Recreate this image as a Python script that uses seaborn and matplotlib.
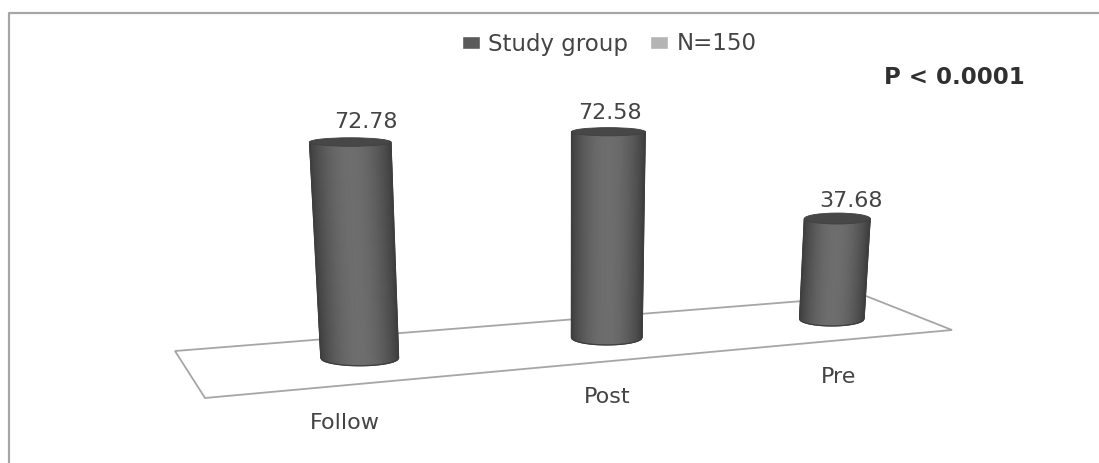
import numpy as np
import pandas as pd
import matplotlib
matplotlib.use("Agg")
import matplotlib.pyplot as plt
from matplotlib.patches import Ellipse, Polygon, Rectangle
from matplotlib.transforms import Transform
import seaborn as sns

categories = ["Follow", "Post", "Pre"]
study_values = [72.78, 72.58, 37.68]
series_names = ["Study group", "N=150"]
annotation = "P < 0.0001"

W, H = 1099, 463
INK = "#444444"
FRAME = "#a6a6a6"
BAR_WIDTH = 0.3


class Perspective(Transform):
    """Homography from (category position, value) to image pixels."""
    input_dims = output_dims = 2
    is_affine = False
    M = np.array([[276.7, -0.338, 360.0],
                  [-4.0, -3.052, 358.0],
                  [0.0489, -0.000594, 1.0]])

    def transform_non_affine(self, values):
        pts = np.column_stack([np.asarray(values), np.ones(len(values))])
        out = pts @ self.M.T
        return out[:, :2] / out[:, 2:]


to_pixels = Perspective()

sns.set_theme(style="white")
plt.rcParams["font.family"] = ["DejaVu Sans"]

fig = plt.figure(figsize=(W / 100, H / 100), dpi=100, facecolor="white")
ax = fig.add_axes([0, 0, 1, 1])

frame = pd.DataFrame({
    "category": categories * 2,
    "value": study_values + [np.nan] * len(categories),
    "series": [series_names[0]] * 3 + [series_names[1]] * 3,
})
sns.barplot(data=frame, x="category", y="value", hue="series", order=categories,
            hue_order=series_names, palette=["#5a5a5a", "#b4b4b4"], saturation=1,
            dodge=False, width=BAR_WIDTH, errorbar=None, ax=ax)
ax.set(xlabel="", ylabel="")
ax.set_xticks([])
ax.set_yticks([])
for side in ax.spines.values():
    side.set_visible(False)
ax.set_facecolor("none")

bars = [p for p in ax.patches if isinstance(p, Rectangle)
        and np.isfinite(p.get_height()) and p.get_height() > 0]

# Overlay axes in image pixels for the 3-D scene
scene = fig.add_axes([0, 0, 1, 1], facecolor="none")
scene.set_xlim(0, W)
scene.set_ylim(H, 0)
scene.set_autoscale_on(False)
scene.axis("off")

# Chart area border
scene.plot([9, 9, W], [H, 13, 13], color=FRAME, lw=1.6, clip_on=False, zorder=1)

# Floor of the 3-D plot
scene.add_patch(Polygon([(205, 398), (952, 330), (866, 296), (175, 351)], closed=True,
                        fc="white", ec=FRAME, lw=1.3, zorder=2))


def shade(t):
    """Grey level across a cylinder, t from -1 (left) to 1 (right)."""
    return 0.24 + 0.19 * np.cos(t * np.pi / 2) ** 0.8


def rim_depth(y):
    """Half height of an elliptical rim; rims lower in the view open up more."""
    return 2 + 0.016 * y


# Each seaborn bar is rebuilt as a shaded cylinder through the perspective map
for bar in bars:
    x0, w, top = bar.get_x(), bar.get_width(), bar.get_height()
    bar.set_visible(False)
    corners = to_pixels.transform([(x0, 0), (x0 + w, 0), (x0, top), (x0 + w, top)])
    (xl_b, yl_b), (xr_b, yr_b), (xl_t, yl_t), (xr_t, yr_t) = corners
    y_base, y_top = (yl_b + yr_b) / 2, (yl_t + yr_t) / 2

    t = np.linspace(-1, 1, 81)
    u = (t + 1) / 2
    bottom_x = xl_b + u * (xr_b - xl_b)
    top_x = xl_t + u * (xr_t - xl_t)
    bottom_y = y_base + rim_depth(y_base) * np.sqrt(1 - t ** 2)
    top_y = np.full_like(t, y_top)

    mesh_x = np.column_stack([bottom_x, top_x])
    mesh_y = np.column_stack([bottom_y, top_y])
    levels = np.column_stack([shade(t), shade(t)])
    scene.pcolormesh(mesh_x, mesh_y, levels, shading="gouraud", cmap="gray",
                     vmin=0, vmax=1, zorder=3)

    outline = np.concatenate([np.column_stack([bottom_x, bottom_y]),
                              np.column_stack([top_x[::-1], top_y])])
    scene.add_patch(Polygon(outline, closed=True, fc="none", ec="#3e3e3e", lw=0.9,
                            zorder=3.5))
    scene.add_patch(Ellipse(((xl_t + xr_t) / 2, y_top), xr_t - xl_t,
                            2 * rim_depth(y_top), fc="#474747", ec="#404040", lw=0.6,
                            zorder=4))

# Value labels above the bars, category labels in front of them
label_offsets = [(15, -20), (1, -19), (13, -18)]
cat_offsets = [(-15, 65), (0, 60), (7, 58)]
label_size = 16
for i, (name, val) in enumerate(zip(categories, study_values)):
    px, py = to_pixels.transform([(i, val)])[0]
    scene.text(px + label_offsets[i][0], py + label_offsets[i][1], f"{val:.2f}",
               ha="center", va="center", fontsize=label_size, color=INK, zorder=5)
    bx, by = to_pixels.transform([(i, 0)])[0]
    scene.text(bx + cat_offsets[i][0], by + cat_offsets[i][1], name,
               ha="center", va="center", fontsize=label_size, color=INK, zorder=5)

scene.text(954, 77, annotation, ha="center", va="center",
           fontsize=16.5, fontweight="bold", color="#303030", zorder=5)

sns.move_legend(ax, "center", bbox_to_anchor=(609 / W, 1 - 44 / H), ncols=2,
                title=None, frameon=False, fontsize=16.5, handlelength=0.78,
                handleheight=0.52, handletextpad=0.35, columnspacing=1.0,
                labelcolor=INK)

fig.savefig("out.png", dpi=100, facecolor="white")
